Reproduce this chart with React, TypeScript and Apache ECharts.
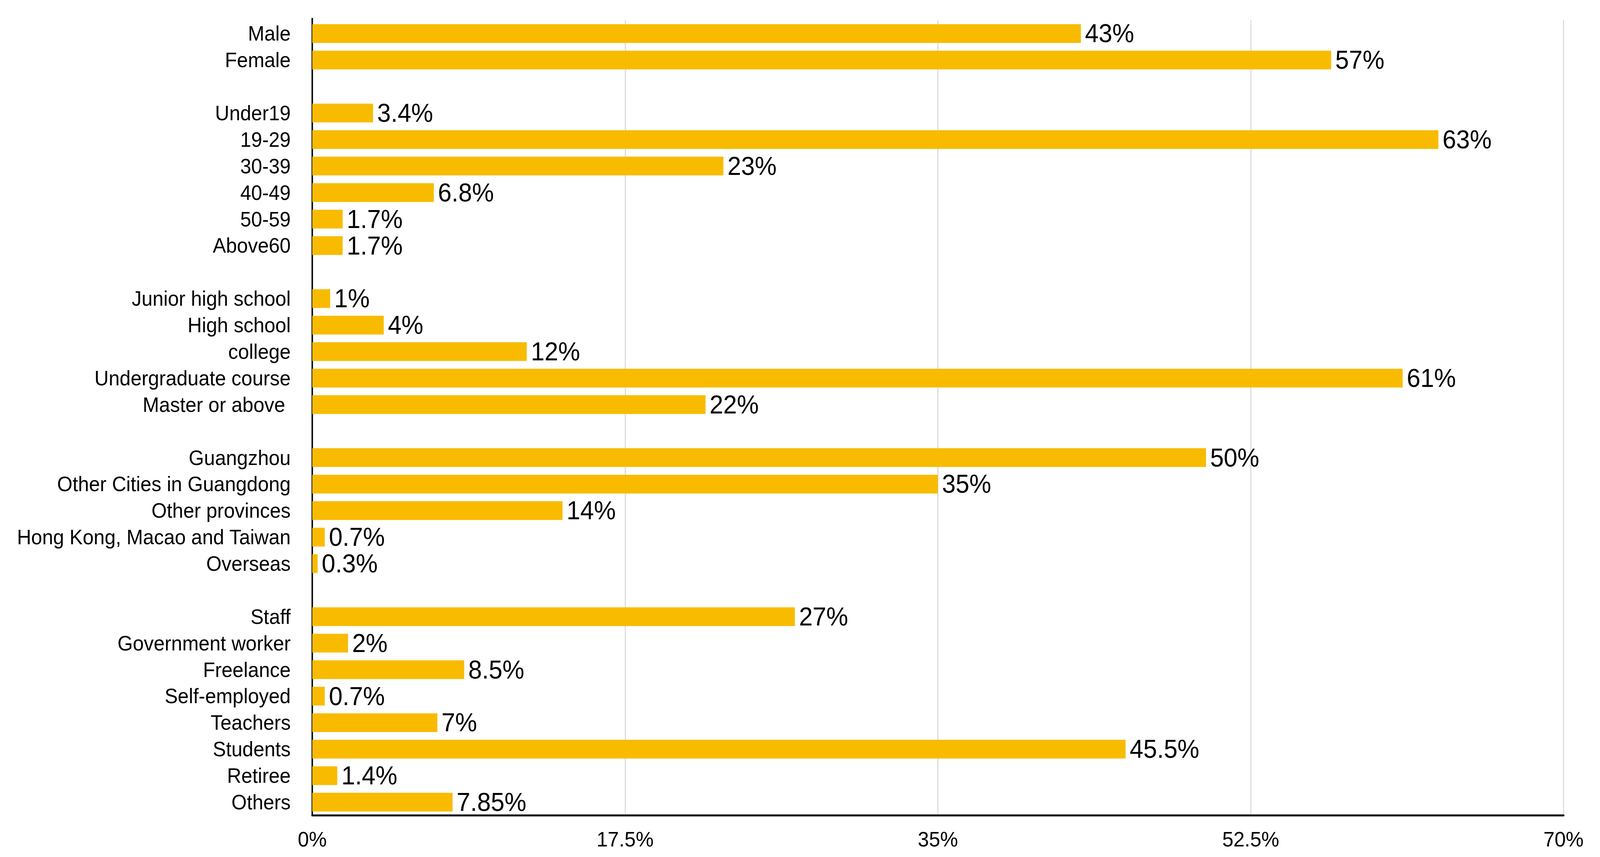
import React, { useEffect, useRef } from "react";
import * as echarts from "echarts";

const categories: string[] = [
  "Male", "Female", " ",
  "Under19", "19-29", "30-39", "40-49", "50-59", "Above60", "  ",
  "Junior high school", "High school", "college", "Undergraduate course", "Master or above ", "   ",
  "Guangzhou", "Other Cities in Guangdong", "Other provinces", "Hong Kong, Macao and Taiwan", "Overseas", "    ",
  "Staff", "Government worker", "Freelance", "Self-employed", "Teachers", "Students", "Retiree", "Others",
];

const values: (number | null)[] = [
  43, 57, null,
  3.4, 63, 23, 6.8, 1.7, 1.7, null,
  1, 4, 12, 61, 22, null,
  50, 35, 14, 0.7, 0.3, null,
  27, 2, 8.5, 0.7, 7, 45.5, 1.4, 7.85,
];

const xTicks: number[] = [0, 17.5, 35, 52.5, 70];

const W = 4299;
const H = 2195;

export default function App() {
  const ref = useRef<HTMLDivElement>(null);
  useEffect(() => {
    if (!ref.current) return;
    document.body.style.margin = "0";
    const sx = Math.min(1, window.innerWidth / W);
    const sy = Math.min(1, window.innerHeight / H);
    ref.current.style.transform = `scale(${sx}, ${sy})`;
    const chart = echarts.init(ref.current, undefined, { renderer: "svg" });
    const font = "'Liberation Sans', Arial, Helvetica, sans-serif";
    const gridLeft = 839;
    const gridTop = 52;
    chart.setOption({
      animation: false,
      backgroundColor: "#ffffff",
      graphic: [
        {
          type: "line",
          shape: { x1: gridLeft, y1: 46, x2: gridLeft, y2: gridTop + 1 },
          style: { stroke: "#000", lineWidth: 4 },
          silent: true,
        },
      ],
      grid: { left: gridLeft, right: 98, top: gridTop, bottom: 106.5, containLabel: false },
      xAxis: {
        type: "value",
        min: xTicks[0],
        max: xTicks[xTicks.length - 1],
        interval: xTicks[1] - xTicks[0],
        axisLine: { show: true, lineStyle: { color: "#000", width: 5 } },
        axisTick: { show: false },
        splitLine: { show: true, lineStyle: { color: "#cccccc", width: 2 } },
        axisLabel: {
          formatter: (v: number) => `${v}%`,
          fontFamily: font,
          fontSize: 54,
          color: "#000",
          margin: 34,
        },
      },
      yAxis: {
        type: "category",
        data: categories,
        inverse: true,
        axisLine: { show: true, lineStyle: { color: "#000", width: 4 } },
        axisTick: { show: false },
        splitLine: { show: false },
        axisLabel: {
          fontFamily: font,
          fontSize: 53,
          color: "#000",
          margin: 58,
          interval: 0,
        },
      },
      series: [
        {
          type: "bar",
          data: values,
          barWidth: 48,
          itemStyle: { color: "#F8BB00" },
          label: {
            show: true,
            position: "right",
            distance: 11,
            formatter: (p: any) => (p.value == null ? "" : `${p.value}%`),
            fontFamily: font,
            fontSize: 66,
            color: "#000",
          },
        },
      ],
    });
    return () => chart.dispose();
  }, []);
  return (
    <div
      ref={ref}
      style={{
        position: "fixed",
        left: 0,
        top: 0,
        width: W,
        height: H,
        background: "#fff",
        transformOrigin: "0 0",
      }}
    />
  );
}
